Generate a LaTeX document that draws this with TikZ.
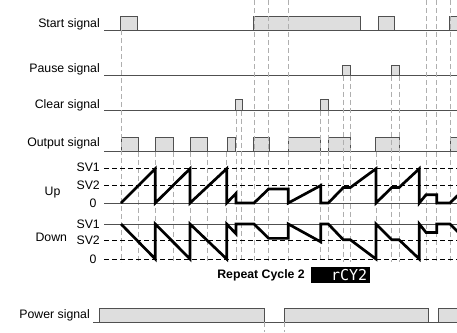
\documentclass[tikz,border=0pt]{standalone}
\usepackage{fontspec}
\setmainfont{Liberation Sans}
\newfontfamily\segfont{DejaVu Sans Mono}
\usetikzlibrary{positioning}
\definecolor{pulsefill}{RGB}{222,222,222}
\definecolor{pulseline}{RGB}{80,80,80}
\definecolor{guidegray}{RGB}{175,175,175}
\newcommand{\sigsize}{\fontsize{12.3}{14}\selectfont}
\tikzset{
  baseline/.style={draw=pulseline, line width=0.9pt},
  pulse/.style={fill=pulsefill, draw=pulseline, line width=0.9pt},
  guide/.style={draw=guidegray, dash pattern=on 5pt off 3pt, line width=0.6pt},
  level/.style={draw=black, dash pattern=on 5pt off 3pt, line width=0.7pt},
  wave/.style={draw=black, line width=2.7pt, line join=miter},
  siglabel/.style={anchor=east, inner sep=0pt, font=\sigsize},
}
% count value between 0 and 1 (SV1), drawn twice: counting up and down
\newcommand{\countwave}{(121,0) -- (155.3,1) -- (155.3,0) -- (190,1) -- (190,0)
  -- (226.7,1) -- (226.7,0) -- (236,0.28) -- (236,0) -- (254,0) -- (268.7,0.41)
  -- (288.3,0.41) -- (288.3,0) -- (320.7,0.51) -- (320.7,0) -- (328.3,0)
  -- (343.3,0.45) -- (350.3,0.45) -- (376,1) -- (376,0) -- (391.7,0.45)
  -- (399,0.45) -- (419.3,1) -- (419.3,0) -- (426,0.24) -- (436.7,0.24)
  -- (436.7,0) -- (450,0) -- (464,0.4)}

\begin{document}
\begin{tikzpicture}[x=1pt, y=-1pt, font=\sigsize]
  \useasboundingbox (0,0) rectangle (457,332);
  \clip (0,0) rectangle (457,332);

  % signal lines and pulses
  \draw[baseline] (104,30) -- (457,30);
  \foreach \a/\b in {120.3/137, 253.3/360, 378.7/394.7, 449.7/462}
    \draw[pulse] (\a,30) rectangle (\b,16);
  \draw[baseline] (104,75.7) -- (457,75.7);
  \foreach \a/\b in {342.7/350.3, 391.3/399}
    \draw[pulse] (\a,75.7) rectangle (\b,65);
  \draw[baseline] (104,110.7) -- (457,110.7);
  \foreach \a/\b in {235.7/242.3, 320.7/328.3}
    \draw[pulse] (\a,110.7) rectangle (\b,99.3);
  \draw[baseline] (104,151.7) -- (457,151.7);
  \foreach \a/\b in {121/138.7, 155.3/173, 190/207.7, 227.3/235.7, 253.7/269,
                     288.7/320.3, 328.3/350.3, 375.7/399, 450/462}
    \draw[pulse] (\a,151.7) rectangle (\b,137.5);
  \draw[baseline] (93.3,322) -- (457,322);
  \foreach \a/\b in {99.3/264.3, 284.3/428.7, 438.3/462}
    \draw[pulse] (\a,322) rectangle (\b,308.3);

  % timing guides
  \foreach \x in {254, 268.7, 288.3, 426, 436.7, 450}
    \draw[guide] (\x,0) -- (\x,262);
  \draw[guide] (121,30) -- (121,262);
  \foreach \x in {343.3, 350.3, 391.7, 399}
    \draw[guide] (\x,75.7) -- (\x,262);
  \foreach \x in {236, 241.7, 320.7, 328.3}
    \draw[guide] (\x,110.7) -- (\x,262);
  \foreach \x in {138.7, 155.3, 173, 190, 207.7, 226.7, 376}
    \draw[guide] (\x,151.7) -- (\x,262);
  \foreach \x in {264.3, 284.3}
    \draw[guide] (\x,322) -- (\x,332);

  % set value levels
  \draw[level] (104,168.7) -- (457,168.7);
  \draw[level] (104,185.7) -- (457,185.7);
  \draw[baseline] (104,203) -- (457,203);
  \draw[baseline] (104,224) -- (457,224);
  \draw[level] (104,240) -- (457,240);
  \draw[level] (104,259) -- (457,259);

  \begin{scope}[shift={(0,203)}, yscale=-34.3]
    \draw[wave] \countwave;
  \end{scope}
  \begin{scope}[shift={(0,224)}, yscale=35]
    \draw[wave] \countwave;
  \end{scope}

  % labels
  \node[siglabel] (startlbl) at (100,24.3) {Start signal};
  \node[siglabel] (pauselbl) at (100,69.3) {Pause signal};
  \node[siglabel] (clearlbl) at (100,105) {Clear signal};
  \node[siglabel] (outlbl) at (100,143.3) {Output signal};
  \node[siglabel] (upsv1) at (100,167.5) {SV1};
  \node[siglabel] (upsv2) at (100,185.5) {SV2};
  \node[siglabel] (upzero) at (96.7,203.3) {0};
  \node[inner sep=0pt] (uplbl) at (52.5,193) {Up};
  \node[siglabel] (dnsv1) at (100,224) {SV1};
  \node[siglabel] (dnsv2) at (100,240) {SV2};
  \node[siglabel] (dnzero) at (96.7,259.3) {0};
  \node[inner sep=0pt] (dnlbl) at (51.3,237.3) {Down};
  \node[siglabel, font=\sigsize\bfseries] (rcylbl) at (305,275) {Repeat Cycle 2};
  \node[fill=black, minimum width=59.3pt, minimum height=15.3pt, inner sep=0pt,
        anchor=west, right=5.7pt of rcylbl] (display) {};
  \node[anchor=east, inner sep=0pt, text=white, font=\segfont\fontsize{15}{15}\selectfont]
    (dispval) at ([xshift=-3pt]display.east) {rCY2};
  \node[siglabel] (powerlbl) at (90,315.7) {Power signal};
\end{tikzpicture}
\end{document}
